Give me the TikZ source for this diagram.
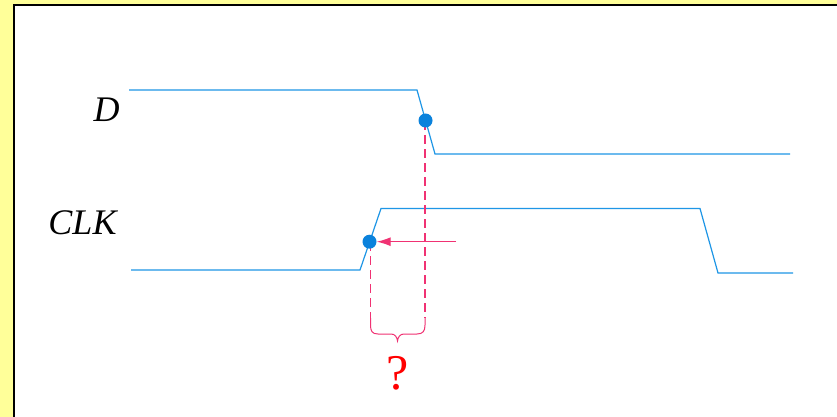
\documentclass[tikz,border=0pt]{standalone}
\usepackage{fontspec}
\setmainfont{Liberation Serif}
\usetikzlibrary{arrows.meta}
\definecolor{sig}{RGB}{30,150,230}
\definecolor{dotc}{RGB}{10,130,220}
\definecolor{pinkc}{RGB}{240,50,115}
\definecolor{frameyel}{RGB}{255,255,153}
\tikzset{
  signal/.style={draw=sig, line width=1.2pt, line join=miter},
  dotn/.style={circle, fill=dotc, inner sep=0pt, minimum size=14pt},
  guide/.style={draw=pinkc, line width=1.2pt, dash pattern=on 9pt off 5pt},
  lbl/.style={font=\fontsize{36}{40}\selectfont\itshape, anchor=base, inner sep=0pt},
}
\begin{document}
\begin{tikzpicture}[x=1pt,y=-1pt]
\useasboundingbox (0,0) rectangle (837,417);
\fill[frameyel] (0,0) rectangle (837,417);
\fill[white] (14,5) rectangle (840,420);
\draw[black, line width=2pt] (14,420) -- (14,5) -- (840,5);
% labels
\node[lbl] (dl) at (106.5,121.7) {D};
\node[lbl] (cl) at (82.5,234.3) {CLK};
% signals
\coordinate (d0) at (129,90);
\coordinate (d1) at (417,90);
\coordinate (d2) at (435,154);
\coordinate (d3) at (790,154);
\draw[signal] (d0) -- (d1) -- (d2) -- (d3);
\coordinate (c0) at (131,270);
\coordinate (c1) at (360,270);
\coordinate (c2) at (381,208.5);
\coordinate (c3) at (700,208.5);
\coordinate (c4) at (718,273);
\coordinate (c5) at (793,273);
\draw[signal] (c0) -- (c1) -- (c2) -- (c3) -- (c4) -- (c5);
% guides
\coordinate (gd) at (425,318);
\coordinate (gc) at (370.5,318);
\draw[guide] (425,121) -- (gd);
\draw[guide] (370.5,242) -- (gc);
% brace
\draw[pinkc, line width=1pt] (gc) -- (370.5,325)
  .. controls (370.5,331) and (372,334) .. (378,334)
  -- (391,334) .. controls (395,334) and (397,337) .. (397.5,341)
  .. controls (398,337) and (400,334) .. (404,334)
  -- (417,334) .. controls (423,334) and (425,331) .. (425,325) -- (gd);
% dots
\node[dotn] (dd) at (425.5,120.5) {};
\node[dotn] (cd) at (369.5,241.7) {};
% arrow
\coordinate (as) at (456,241.7);
\draw[pinkc, line width=1.2pt, -{Latex[length=14pt,width=9pt]}] (as) -- (cd.east);
% question
\node[font=\fontsize{50}{56}\selectfont, text=red, anchor=base, inner sep=0pt] (q) at (397.3,389) {?};
\end{tikzpicture}
\end{document}
